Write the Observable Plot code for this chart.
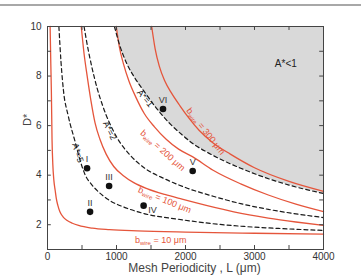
<!DOCTYPE html>
<html><head><meta charset="utf-8">
<script src="https://cdn.jsdelivr.net/npm/d3@7"></script>
<script src="https://cdn.jsdelivr.net/npm/@observablehq/plot@0.6"></script>
<style>
body{margin:0;background:#fff;}
#bar{position:absolute;top:4px;left:0;width:361px;height:2px;background:#a8a8a8;z-index:2;}
#chart{position:absolute;top:0;left:0;}
</style></head><body>
<div id="bar"></div>
<div id="chart"></div>
<script>
// ---- data (L in µm, D*) ----
const bWire10  = [[38,10],[48,8.5],[56,7.4],[66,5.4],[77,4.44],[92,3.8],[111,3.39],[128,3.05],[150,2.78],[180,2.52],[225,2.32],[280,2.18],[360,2.06],[450,1.97],[650,1.86],[900,1.8],[1300,1.75],[2000,1.7],[3000,1.655],[4000,1.62]];
const bWire100 = [[489,10],[530,8.9],[575,8.0],[630,7.0],[690,6.1],[760,5.45],[850,4.85],[960,4.35],[1100,3.98],[1250,3.7],[1450,3.45],[1700,3.22],[1950,3.03],[2300,2.78],[2700,2.52],[3200,2.27],[3600,2.11],[4000,1.97]];
const bWire200 = [[997,10],[1040,9.2],[1100,8.5],[1180,7.8],[1280,7.15],[1400,6.5],[1550,5.95],[1720,5.45],[1900,5.05],[2100,4.75],[2400,4.2],[2800,3.65],[3200,3.2],[3600,2.83],[4000,2.53]];
const bWire300 = [[1510,10],[1560,9.1],[1620,8.4],[1700,7.8],[1800,7.3],[1920,6.8],[2050,6.3],[2200,5.8],[2400,5.3],[2650,4.85],[3000,4.3],[3500,3.75],[4000,3.35]];
const aStar5 = [[165,10],[195,8.6],[232,7.4],[300,6.4],[400,5.35],[470,4.62],[540,4.05],[640,3.62],[750,3.3],[900,2.98],[1100,2.72],[1400,2.45],[1900,2.22],[2400,2.04],[2850,1.93],[3350,1.85],[4000,1.77]];
const aStar2 = [[530,10],[580,9.2],[640,8.4],[720,7.5],[800,6.8],[900,6.1],[1000,5.55],[1200,4.8],[1400,4.3],[1700,3.85],[2000,3.5],[2400,3.15],[2800,2.85],[3200,2.62],[3600,2.44],[4000,2.29]];
const aStar1 = [[970,10],[1040,9.3],[1151,8.49],[1260,7.95],[1393,7.41],[1580,6.7],[1781,6.06],[1950,5.63],[2119,5.25],[2330,4.9],[2555,4.58],[2800,4.28],[3125,3.93],[3500,3.6],[4000,3.26]];

const sampleNames = ["I","II","III","IV","V","VI"];
const sampleL = [573, 617, 893, 1393, 2104, 1674];
const sampleD = [4.28, 2.52, 3.56, 2.77, 4.17, 6.67];

const wireLabelText = ["b_wire = 10 μm","b_wire = 100 μm","b_wire = 200 μm","b_wire = 300 μm"];
const wireLabelL = [1640, 1698, 1670, 2293];
const wireLabelD = [1.36, 3.0, 5.0, 5.77];
const wireLabelAngle = [0, 22, 42, 52];

const aLabelText = ["A*=5","A*=2","A*=1"];
const aLabelL = [440, 900, 1415];
const aLabelD = [4.9, 5.8, 7.1];
const aLabelAngle = [72, 64, 50];

const xTickLabels = [0,1000,2000,3000,4000];
const yTickLabels = [2,4,6,8,10];
const xMinorTicks = [0,500,1000,1500,2000,2500,3000,3500,4000];
const yMinorTicks = [1,2,3,4,5,6,7,8,9,10];

// ---- tables ----
const toRows = (name, pts) => pts.map(([L, D]) => ({name, L, D}));
const redRows = [...toRows("10", bWire10), ...toRows("100", bWire100), ...toRows("200", bWire200), ...toRows("300", bWire300)];
const dashRows = [...toRows("5", aStar5), ...toRows("2", aStar2), ...toRows("1", aStar1)];
const grayRows = toRows("1", aStar1);
const samples = sampleNames.map((n, i) => ({n, L: sampleL[i], D: sampleD[i]}));
const wireLabels = wireLabelText.map((t, i) => ({t, L: wireLabelL[i], D: wireLabelD[i], a: wireLabelAngle[i]}));
const aLabels = aLabelText.map((t, i) => ({t, L: aLabelL[i], D: aLabelD[i], a: aLabelAngle[i]}));

const RED = "#e5553b";
const INK = "#333";

const chart = Plot.plot({
  width: 361, height: 276,
  marginLeft: 47, marginRight: 38, marginTop: 26, marginBottom: 27,
  style: {fontFamily: "'Liberation Sans', Arial, sans-serif", fontSize: "10px", color: INK, background: "white"},
  x: {domain: [0, 4000], ticks: xTickLabels, tickFormat: d => String(d), tickSize: 0, tickPadding: 3, label: null},
  y: {domain: [1, 10], ticks: yTickLabels, tickFormat: d => String(d), tickSize: 0, tickPadding: 6, label: null},
  marks: [
    Plot.areaY(grayRows, {x: "L", y1: "D", y2: 10, fill: "#d9d9d9", curve: "monotone-x"}),
    Plot.line(redRows, {x: "L", y: "D", z: "name", stroke: RED, strokeWidth: 1.3, curve: "monotone-x"}),
    Plot.line(dashRows, {x: "L", y: "D", z: "name", stroke: "#1a1a1a", strokeWidth: 1.2, strokeDasharray: "4,3", curve: "monotone-x"}),
    Plot.dot(samples, {x: "L", y: "D", r: 3.3, fill: "#111"}),
    Plot.text(samples.filter(d => d.n !== "IV"), {x: "L", y: "D", text: "n", dy: -9, fontSize: 9, fill: INK}),
    Plot.text(samples.filter(d => d.n === "IV"), {x: "L", y: "D", text: "n", dx: 9, dy: 4, fontSize: 9, fill: INK}),
    Plot.text(aLabels, {x: "L", y: "D", text: "t", rotate: "a", fontSize: 9, fill: "#222"}),
    Plot.text(wireLabels, {x: "L", y: "D", text: "t", rotate: "a", fontSize: 9, fill: RED}),
    Plot.text(["A*<1"], {x: 3454, y: 8.49, text: d => d, fontSize: 10, fill: "#222"}),
    Plot.ruleY(yMinorTicks, {y: d => d, x1: 0, x2: 55, stroke: "#444"}),
    Plot.ruleY(yMinorTicks, {y: d => d, x1: 3945, x2: 4000, stroke: "#444"}),
    Plot.ruleX(xMinorTicks, {x: d => d, y1: 1, y2: 1.16, stroke: "#444"}),
    Plot.ruleX(xMinorTicks, {x: d => d, y1: 9.84, y2: 10, stroke: "#444"}),
    Plot.frame({stroke: "#444"}),
    Plot.text(["Mesh Periodicity , L (μm)"], {frameAnchor: "bottom", text: d => d, dx: 9, dy: 22.5, fontSize: 12, fill: "#444"}),
    Plot.text(["D*"], {frameAnchor: "left", text: d => d, dx: -20, dy: -12, rotate: -90, fontSize: 11, fill: "#444"})
  ]
});

// subscript "wire" in the b_wire labels
d3.select(chart).selectAll("text").each(function() {
  const s = this.textContent;
  if (!s.includes("_wire")) return;
  const rest = s.split("_wire")[1];
  const t = d3.select(this);
  t.selectAll("*").remove();
  t.text(null);
  t.append("tspan").text("b");
  t.append("tspan").attr("font-size", 6).attr("dy", 2).text("wire");
  t.append("tspan").attr("dy", -2).text(rest);
});

document.getElementById("chart").appendChild(chart);
</script>
</body></html>
